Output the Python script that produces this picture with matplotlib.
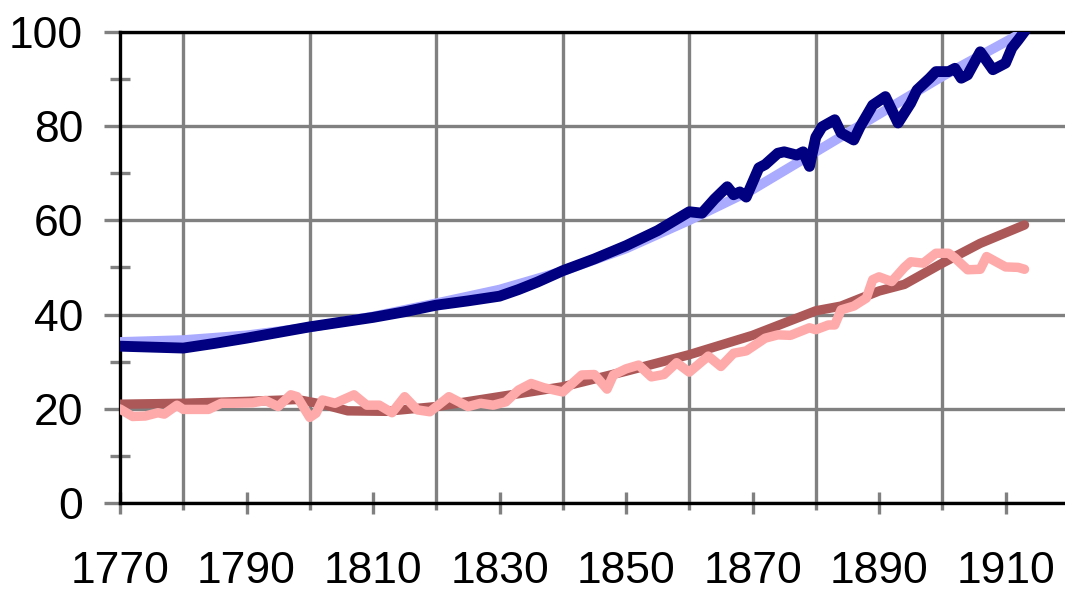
import matplotlib
matplotlib.use("Agg")
import matplotlib.pyplot as plt
from matplotlib.ticker import FixedLocator

plt.rcParams['font.family'] = ['Liberation Sans', 'DejaVu Sans']

# ---- data ----
navy_years = [1770, 1775, 1780, 1785, 1790, 1795, 1800, 1805, 1810, 1815, 1820, 1825,
              1830, 1833, 1836, 1840, 1845, 1850, 1855, 1860, 1862, 1864, 1866, 1867, 1868,
              1869, 1871, 1872, 1874, 1875, 1877, 1878, 1879, 1880, 1881, 1883, 1884,
              1886, 1887, 1889, 1891, 1893, 1895, 1896, 1898, 1899, 1901, 1902, 1903,
              1904, 1906, 1908, 1910, 1911, 1912, 1913]
navy_vals = [33.3, 33.1, 32.9, 33.9, 35.0, 36.2, 37.4, 38.4, 39.4, 40.6, 42.0, 42.9,
             43.9, 45.3, 46.9, 49.3, 51.8, 54.6, 57.8, 61.8, 61.5, 64.5, 67.1, 65.4, 66.0,
             64.9, 71.1, 71.8, 74.2, 74.5, 73.8, 74.5, 71.4, 77.6, 79.8, 81.3, 78.5,
             77.0, 79.8, 84.4, 86.2, 80.6, 84.8, 87.6, 90.1, 91.5, 91.5, 92.2, 90.1,
             90.8, 95.7, 91.9, 93.3, 96.5, 98.2, 100.0]

lblue_years = [1770, 1780, 1790, 1800, 1810, 1820, 1830, 1840, 1850, 1860, 1870, 1880,
               1890, 1900, 1913]
lblue_vals = [34.2, 34.6, 35.6, 37.3, 39.6, 42.4, 45.3, 49.2, 54.0, 60.0, 66.5, 74.5,
              82.5, 90.5, 100.0]

brown_years = [1770, 1780, 1790, 1798, 1802, 1806, 1812, 1820, 1830, 1840, 1850, 1860,
               1870, 1880, 1884, 1890, 1894, 1900, 1906, 1913]
brown_vals = [21.0, 21.2, 21.6, 22.0, 21.0, 19.6, 19.5, 20.5, 22.6, 24.7, 28.0, 31.5,
              35.6, 40.8, 41.8, 45.0, 46.4, 50.9, 55.1, 59.0]

pink_years = [1770, 1772, 1774, 1776, 1777, 1779, 1780, 1784, 1786, 1788, 1791, 1793,
              1795, 1797, 1798, 1800, 1801, 1802, 1804, 1807, 1809, 1811, 1813, 1815,
              1817, 1819, 1822, 1825, 1827, 1829, 1831, 1833, 1835, 1837, 1840, 1843,
              1845, 1847, 1848, 1850, 1852, 1854, 1856, 1858, 1860, 1863, 1865, 1867,
              1869, 1872, 1874, 1876, 1879, 1880, 1882, 1883, 1884, 1886, 1888, 1889,
              1890, 1892, 1894, 1895, 1897, 1899, 1901, 1902, 1904, 1906, 1907, 1910,
              1912, 1913]
pink_vals = [20.0, 18.4, 18.5, 19.2, 18.9, 20.8, 19.9, 19.9, 21.2, 21.2, 21.3, 21.8,
             20.5, 23.0, 22.6, 18.2, 19.1, 21.9, 21.2, 23.0, 20.8, 20.8, 19.2, 22.6,
             19.8, 19.4, 22.6, 20.5, 21.2, 20.8, 21.5, 24.0, 25.4, 24.5, 23.6, 27.2,
             27.3, 24.2, 27.2, 28.5, 29.3, 26.8, 27.3, 29.8, 27.8, 31.2, 29.0, 31.8,
             32.3, 35.0, 35.7, 35.6, 37.2, 36.8, 37.8, 37.8, 41.0, 41.8, 43.5, 47.4,
             48.0, 47.0, 50.0, 51.2, 50.9, 53.0, 53.0, 52.0, 49.5, 49.6, 52.3, 50.1,
             50.0, 49.6]

label_years = [1770, 1790, 1810, 1830, 1850, 1870, 1890, 1910]
grid_years = [1780, 1800, 1820, 1840, 1860, 1880, 1900]
y_major = [0, 20, 40, 60, 80, 100]
y_minor = [10, 30, 50, 70, 90]

# ---- figure ----
fig = plt.figure(figsize=(10.65, 5.91), dpi=100)
ax = fig.add_axes([120 / 1065, 87.7 / 591, 948.8 / 1065, 471.8 / 591])
ax.set_xlim(1770, 1920)
ax.set_ylim(0, 100)

gray = '#808080'
ax.xaxis.set_major_locator(FixedLocator(label_years))
ax.xaxis.set_minor_locator(FixedLocator(grid_years))
ax.yaxis.set_major_locator(FixedLocator(y_major))
ax.yaxis.set_minor_locator(FixedLocator(y_minor))
ax.set_xticklabels([str(y) for y in label_years])
ax.set_yticklabels([str(v) for v in y_major])

ax.grid(True, which='minor', axis='x', color=gray, linewidth=2.4)
ax.grid(True, which='major', axis='y', color=gray, linewidth=2.4)
ax.grid(False, which='major', axis='x')
ax.set_axisbelow(True)

ax.tick_params(axis='x', which='major', direction='inout', length=16, width=2.4,
               color=gray, labelsize=32, pad=26)
ax.tick_params(axis='x', which='minor', direction='out', length=5, width=2.4, color=gray)
ax.tick_params(axis='y', which='major', direction='out', length=11.5, width=2.4,
               color=gray, labelsize=32, pad=15)
ax.tick_params(axis='y', which='minor', direction='inout', length=14.4, width=2.4,
               color=gray)

for s in ['left', 'top', 'bottom']:
    ax.spines[s].set_color('black')
    ax.spines[s].set_linewidth(2.4)
ax.spines['right'].set_visible(False)

kw = dict(solid_capstyle='round', solid_joinstyle='round')
ax.plot(lblue_years, lblue_vals, color='#aaaaff', linewidth=7.0, zorder=3, **kw)
ax.plot(navy_years, navy_vals, color='#000080', linewidth=7.8, zorder=4, **kw)
ax.plot(brown_years, brown_vals, color='#ac5858', linewidth=6.8, zorder=3, **kw)
ax.plot(pink_years, pink_vals, color='#ffaaaa', linewidth=6.8, zorder=4, **kw)

fig.savefig('out.png', dpi=100)
